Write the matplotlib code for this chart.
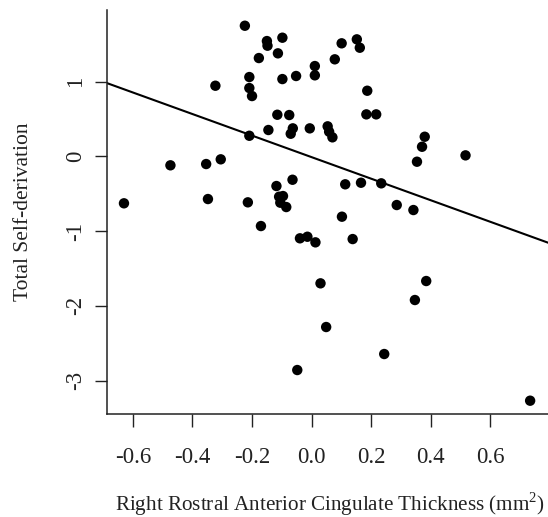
import numpy as np
import matplotlib
matplotlib.use("Agg")
import matplotlib.pyplot as plt

plt.rcParams['font.family'] = ['Liberation Serif', 'DejaVu Serif']
plt.rcParams['mathtext.fontset'] = 'custom'
plt.rcParams['mathtext.rm'] = 'Liberation Serif'
plt.rcParams['axes.unicode_minus'] = False

thickness = [
    -0.224, -0.150, -0.148, -0.098, -0.113, -0.177, 0.101, 0.152, 0.162, 0.078,
    0.011, 0.011, -0.052, -0.098, -0.209, -0.209, -0.200, 0.187, -0.115, -0.075,
    0.184, 0.217, -0.209, -0.145, -0.063, -0.070, -0.006, 0.054, 0.059, 0.070,
    -0.323, 0.380, 0.371, 0.354, 0.517, -0.474, -0.354, -0.305, -0.630, -0.348,
    -0.214, -0.064, -0.118, -0.109, -0.096, -0.105, -0.085, -0.170, -0.039, -0.014,
    0.013, 0.113, 0.166, 0.234, 0.286, 0.342, 0.102, 0.138, 0.030, 0.385,
    0.347, 0.049, 0.244, -0.048, 0.734,
]
self_derivation = [
    1.746, 1.541, 1.479, 1.586, 1.377, 1.314, 1.511, 1.564, 1.452, 1.297,
    1.207, 1.083, 1.074, 1.033, 1.060, 0.913, 0.806, 0.877, 0.556, 0.552,
    0.561, 0.561, 0.275, 0.352, 0.374, 0.302, 0.374, 0.401, 0.329, 0.254,
    0.944, 0.262, 0.128, -0.072, 0.013, -0.120, -0.103, -0.040, -0.628, -0.571,
    -0.615, -0.313, -0.397, -0.540, -0.531, -0.620, -0.678, -0.932, -1.096, -1.075,
    -1.150, -0.374, -0.353, -0.361, -0.651, -0.718, -0.807, -1.106, -1.698, -1.667,
    -1.921, -2.282, -2.643, -2.857, -3.267,
]
x_ticks = [-0.6, -0.4, -0.2, 0.0, 0.2, 0.4, 0.6]
x_tick_labels = ["-0.6", "-0.4", "-0.2", "0.0", "0.2", "0.4", "0.6"]
y_ticks = [-3, -2, -1, 0, 1]
y_tick_labels = ["-3", "-2", "-1", "0", "1"]

x = np.array(thickness)
y = np.array(self_derivation)
slope, intercept = np.polyfit(x, y, 1)

fig = plt.figure(figsize=(5.48, 5.17), dpi=100)
ax = fig.add_axes([0.1958, 0.1992, 0.8042, 0.7814])
ax.scatter(x, y, s=56, color='black', edgecolors='none', zorder=3)
ax.axline((0, intercept), slope=slope, color='black', lw=1.5, zorder=2)

ax.set_xlim(-0.686, 0.794)
ax.set_ylim(-3.445, 1.956)
ax.spines['top'].set_visible(False)
ax.spines['right'].set_visible(False)
for s in ('left', 'bottom'):
    ax.spines[s].set_linewidth(1.1)
    ax.spines[s].set_color('#222222')

ax.set_xticks(x_ticks)
ax.set_xticklabels(x_tick_labels)
ax.set_yticks(y_ticks)
ax.set_yticklabels(y_tick_labels, rotation=90, va='center')
ax.tick_params(axis='both', direction='out', length=9, width=1.0, color='#222222',
               labelsize=16.5, labelcolor='#222222')
ax.tick_params(axis='x', pad=15)
ax.tick_params(axis='y', pad=6)

ax.set_xlabel(r"Right Rostral Anterior Cingulate Thickness (mm$^2$)",
              fontsize=15.2, color='#222222')
ax.xaxis.set_label_coords(0.505, -0.24)
ax.xaxis.label.set_va('baseline')
ax.set_ylabel("Total Self-derivation", fontsize=15.5, color='#222222')
ax.yaxis.set_label_coords(-0.18, 0.5)
ax.yaxis.label.set_va('baseline')

fig.savefig("out.png", dpi=100)
